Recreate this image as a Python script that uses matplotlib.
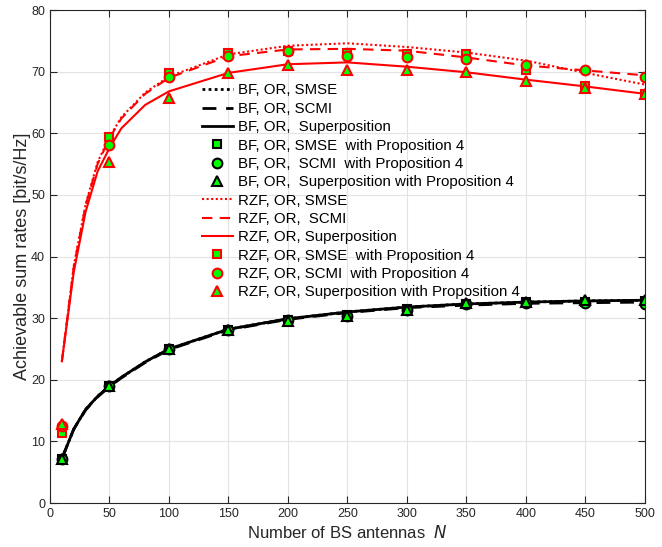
import numpy as np
import matplotlib
matplotlib.use('Agg')
import matplotlib.pyplot as plt
from matplotlib.ticker import MultipleLocator

plt.rcParams['font.family'] = ['Liberation Sans', 'DejaVu Sans']

# curve sample points (number of BS antennas)
n_line = [10, 20, 30, 40, 50, 60, 80, 100, 150, 200, 250, 300, 350, 400, 450, 500]
# marker points
n_mark = [10, 50, 100, 150, 200, 250, 300, 350, 400, 450, 500]

# BF, OR curves
bf_smse = [7.2, 12.0, 15.2, 17.3, 19.0, 20.4, 22.9, 25.0, 28.2, 29.9, 31.0, 31.8, 32.3, 32.6, 32.8, 32.9]
bf_scmi = [7.2, 12.0, 15.1, 17.2, 18.9, 20.3, 22.8, 24.9, 28.1, 29.8, 30.9, 31.7, 32.1, 32.4, 32.5, 32.6]
bf_sup = [7.2, 12.0, 15.2, 17.3, 19.0, 20.4, 22.9, 25.0, 28.2, 29.9, 31.0, 31.8, 32.3, 32.6, 32.8, 32.9]

# BF with Proposition 4
bf_smse_p4 = [7.2, 19.0, 25.0, 28.1, 29.7, 30.5, 31.5, 32.3, 32.6, 32.7, 32.8]
bf_scmi_p4 = [7.2, 19.0, 25.0, 28.1, 29.7, 30.4, 31.4, 32.3, 32.5, 32.4, 32.3]
bf_sup_p4 = [7.2, 19.0, 25.0, 28.1, 29.6, 30.4, 31.4, 32.4, 32.7, 32.9, 33.0]

# RZF, OR curves
rzf_smse = [23.0, 38.5, 48.5, 55.3, 59.4, 62.6, 66.6, 69.2, 72.8, 74.2, 74.6, 74.0, 73.1, 71.8, 69.8, 67.9]
rzf_scmi = [23.0, 38.3, 48.3, 55.0, 59.2, 62.4, 66.4, 69.0, 72.5, 73.6, 73.7, 73.4, 72.3, 71.0, 70.2, 69.4]
rzf_sup = [23.0, 37.5, 47.3, 53.8, 57.6, 60.8, 64.6, 66.8, 69.8, 71.2, 71.5, 70.8, 69.9, 68.7, 67.6, 66.4]

# RZF with Proposition 4
rzf_smse_p4 = [11.3, 59.4, 69.8, 73.0, 73.4, 73.0, 72.9, 72.9, 70.2, 67.7, 66.3]
rzf_scmi_p4 = [12.5, 58.1, 69.1, 72.6, 73.4, 72.6, 72.3, 72.0, 71.0, 70.2, 69.2]
rzf_sup_p4 = [12.8, 55.4, 65.7, 69.7, 71.0, 70.3, 70.2, 69.9, 68.4, 67.4, 66.3]

green = '#00ff00'
dot = (0, (1, 1.2))
dash = (0, (5, 3.5))

fig = plt.figure(figsize=(6.62, 5.47), dpi=100)
ax = fig.add_axes([0.0755, 0.0804, 0.8985, 0.9013])

ax.plot(n_line, bf_smse, color='k', ls=dot, lw=2, label='BF, OR, SMSE')
ax.plot(n_line, bf_scmi, color='k', ls=dash, lw=2, label='BF, OR, SCMI')
ax.plot(n_line, bf_sup, color='k', ls='-', lw=2, label='BF, OR,  Superposition')
ax.plot(n_mark, bf_smse_p4, ls='none', marker='s', ms=5.5, mfc=green, mec='k', mew=1.5,
        label='BF, OR, SMSE  with Proposition 4')
ax.plot(n_mark, bf_scmi_p4, ls='none', marker='o', ms=7, mfc=green, mec='k', mew=1.5,
        label='BF, OR,  SCMI  with Proposition 4')
ax.plot(n_mark, bf_sup_p4, ls='none', marker='^', ms=7.5, mfc=green, mec='k', mew=1.5,
        label='BF, OR,  Superposition with Proposition 4')

ax.plot(n_line, rzf_smse, color='r', ls=dot, lw=1.5, label='RZF, OR, SMSE')
ax.plot(n_line, rzf_scmi, color='r', ls=dash, lw=1.5, label='RZF, OR,  SCMI')
ax.plot(n_line, rzf_sup, color='r', ls='-', lw=1.5, label='RZF, OR, Superposition')
ax.plot(n_mark, rzf_smse_p4, ls='none', marker='s', ms=5.5, mfc=green, mec='r', mew=1.5,
        label='RZF, OR, SMSE  with Proposition 4')
ax.plot(n_mark, rzf_scmi_p4, ls='none', marker='o', ms=7, mfc=green, mec='r', mew=1.5,
        label='RZF, OR, SCMI  with Proposition 4')
ax.plot(n_mark, rzf_sup_p4, ls='none', marker='^', ms=7.5, mfc=green, mec='r', mew=1.5,
        label='RZF, OR, Superposition with Proposition 4')

ax.set_xlim(0, 500)
ax.set_ylim(0, 80)
ax.xaxis.set_major_locator(MultipleLocator(50))
ax.yaxis.set_major_locator(MultipleLocator(10))
ax.grid(True, color='#e3e3e3', lw=0.8)
ax.set_axisbelow(True)
ax.tick_params(direction='in', top=True, right=True, length=5, width=0.8,
               labelsize=9, colors='#262626')
for s in ax.spines.values():
    s.set_color('#262626')
    s.set_linewidth(0.8)

ax.set_xlabel('Number of BS antennas  $\\mathit{N}$', fontsize=12, color='#262626', labelpad=3)
ax.set_ylabel('Achievable sum rates [bit/s/Hz]', fontsize=13, color='#262626', labelpad=0)

leg = ax.legend(loc='upper left', bbox_to_anchor=(0.2555, 0.851), frameon=False,
                fontsize=10.8, handlelength=2.07, handletextpad=0.33, labelspacing=0.29,
                borderaxespad=0, borderpad=0)

fig.savefig('out.png', dpi=100)
